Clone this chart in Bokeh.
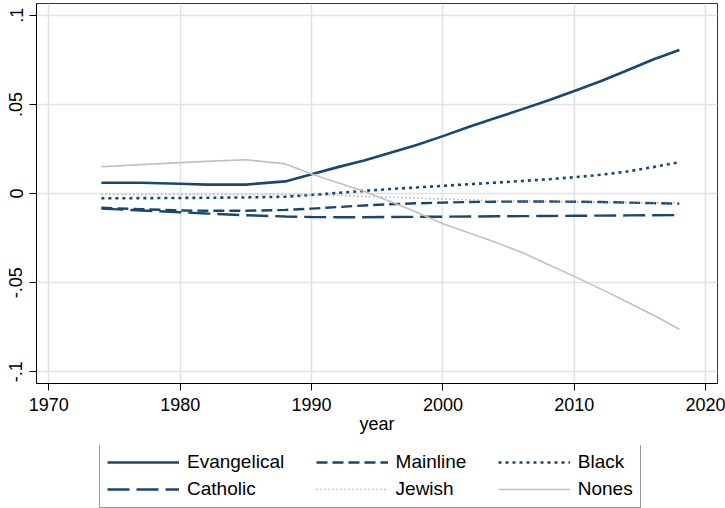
from bokeh.plotting import figure
from bokeh.layouts import column
from bokeh.models import Range1d, FixedTicker, Legend, LegendItem
from bokeh.embed import file_html
from bokeh.resources import INLINE

# Survey years and the estimated trend for each religious tradition
years = [1974, 1977, 1980, 1982, 1985, 1988, 1990, 1992, 1994, 1996, 1998,
         2000, 2002, 2004, 2006, 2008, 2010, 2012, 2014, 2016, 2018]

evangelical = [0.0060, 0.0060, 0.0055, 0.0050, 0.0050, 0.0068, 0.0108, 0.0148,
               0.0185, 0.0228, 0.0272, 0.0322, 0.0375, 0.0423, 0.0472, 0.0522,
               0.0575, 0.0630, 0.0690, 0.0752, 0.0805]
mainline = [-0.0080, -0.0088, -0.0095, -0.0097, -0.0097, -0.0092, -0.0085,
            -0.0076, -0.0067, -0.0060, -0.0055, -0.0051, -0.0048, -0.0046,
            -0.0045, -0.0045, -0.0046, -0.0048, -0.0051, -0.0054, -0.0057]
black = [-0.0027, -0.0026, -0.0025, -0.0024, -0.0022, -0.0018, -0.0008, 0.0003,
         0.0015, 0.0025, 0.0034, 0.0043, 0.0052, 0.0061, 0.0070, 0.0080,
         0.0091, 0.0105, 0.0123, 0.0148, 0.0176]
catholic = [-0.0085, -0.0095, -0.0105, -0.0112, -0.0122, -0.0129, -0.0132,
            -0.0133, -0.0133, -0.0132, -0.0131, -0.0130, -0.0129, -0.0128,
            -0.0127, -0.0126, -0.0125, -0.0124, -0.0123, -0.0122, -0.0121]
jewish = [-0.0006, -0.0006, -0.0006, -0.0006, -0.0006, -0.0006, -0.0008,
          -0.0011, -0.0016, -0.0021, -0.0026, -0.0031, -0.0036, -0.0040,
          -0.0043, -0.0045, -0.0047, -0.0049, -0.0050, -0.0051, -0.0052]
nones = [0.0150, 0.0162, 0.0173, 0.0180, 0.0189, 0.0166, 0.0110, 0.0060,
         0.0012, -0.0045, -0.0105, -0.0170, -0.0222, -0.0274, -0.0330,
         -0.0398, -0.0465, -0.0535, -0.0607, -0.0682, -0.0762]

x_ticks = [1970, 1980, 1990, 2000, 2010, 2020]
y_ticks = [-0.1, -0.05, 0, 0.05, 0.1]
y_tick_labels = ["-.1", "-.05", "0", ".05", ".1"]

FONT = "Liberation Sans"
NAVY = "#1a476f"
PAD = "\u00a0" * 5   # widens the first two key columns

# series styling: (name, values, color, width, dash)
series = [
    ("Evangelical", evangelical, NAVY, 2.6, "solid"),
    ("Mainline", mainline, NAVY, 2.4, "11 5"),
    ("Black", black, NAVY, 2.6, "3 4"),
    ("Catholic", catholic, NAVY, 2.4, "22 7"),
    ("Jewish", jewish, "#7f95ad", 1.6, "1 3"),
    ("Nones", nones, "#c0c0c0", 1.6, "solid"),
]

p = figure(width=725, height=445, output_backend="svg", toolbar_location=None,
           x_range=Range1d(1969.06, 2020.9), y_range=Range1d(-0.1066, 0.1066),
           min_border_left=36, min_border_right=8, min_border_top=3,
           min_border_bottom=62, background_fill_color="white",
           border_fill_color="white")

p.outline_line_color = "#333333"
p.outline_line_width = 1

# grid
for g in (p.xgrid, p.ygrid):
    g.grid_line_color = "#e2e2e2"
    g.grid_line_width = 1.6
p.xgrid.ticker = FixedTicker(ticks=x_ticks)
p.ygrid.ticker = FixedTicker(ticks=y_ticks)

# axes
p.xaxis.ticker = FixedTicker(ticks=x_ticks)
p.yaxis.ticker = FixedTicker(ticks=y_ticks)
p.yaxis.major_label_overrides = {t: l for t, l in zip(y_ticks, y_tick_labels)}
p.yaxis.major_label_orientation = "vertical"
p.xaxis.axis_label = "year"
for ax in (p.xaxis, p.yaxis):
    ax.axis_line_color = "black"
    ax.axis_line_width = 1
    ax.major_tick_line_color = "black"
    ax.major_tick_out = 7
    ax.major_tick_in = 0
    ax.minor_tick_line_color = None
    ax.major_label_text_font = FONT
    ax.major_label_text_font_size = "18px"
    ax.major_label_text_color = "black"
    ax.major_label_standoff = 7
    ax.axis_label_text_font = FONT
    ax.axis_label_text_font_size = "18px"
    ax.axis_label_text_font_style = "normal"
    ax.axis_label_text_color = "black"
    ax.axis_label_standoff = 0
p.yaxis.major_label_standoff = 7

for name, vals, color, width, dash in series:
    p.line(years, vals, line_color=color, line_width=width, line_dash=dash)

# key strip underneath the chart; its lines sit outside its own view
key = figure(width=725, height=63, output_backend="svg", toolbar_location=None,
             x_axis_type=None, y_axis_type=None,
             x_range=Range1d(0, 1), y_range=Range1d(0, 1),
             min_border=0, background_fill_color="white",
             border_fill_color="white")
key.outline_line_color = None
key.grid.visible = False

items = []
for name, vals, color, width, dash in series:
    r = key.line(years, vals, line_color=color, line_width=width,
                 line_dash=dash)
    label = name + PAD if name in ("Evangelical", "Mainline") else name
    items.append(LegendItem(label=label, renderers=[r]))

legend = Legend(items=items, orientation="horizontal", ncols=3,
                location=(63, 0))
legend.label_text_font = FONT
legend.label_text_font_size = "19px"
legend.label_text_color = "black"
legend.glyph_width = 72
legend.glyph_height = 22
legend.label_height = 22
legend.label_width = 20
legend.label_standoff = 8
legend.spacing = 5
legend.padding = 7
legend.margin = 0
legend.border_line_color = "#333333"
legend.border_line_width = 1
legend.background_fill_color = "white"
key.add_layout(legend, "center")

open("out.html", "w").write(file_html(column(p, key, spacing=0), INLINE))
